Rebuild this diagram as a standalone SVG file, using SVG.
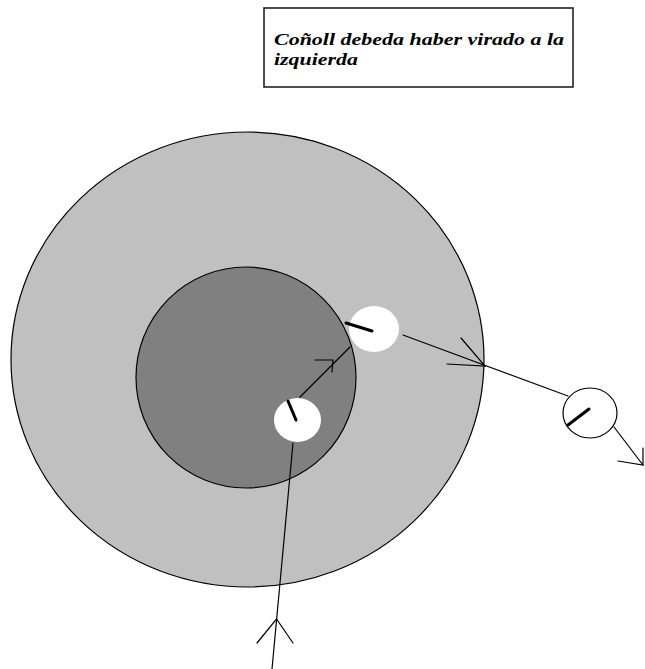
<svg xmlns="http://www.w3.org/2000/svg" width="645" height="669" viewBox="0 0 645 669">
<style>
.ln{stroke:#000;stroke-width:1.2;fill:none;stroke-linecap:round}
.tick{stroke:#000;stroke-width:3;stroke-linecap:round}
.lbl{font-family:"Liberation Serif",serif;font-style:italic;font-weight:bold;font-size:17px;fill:#000}
</style>
<rect width="645" height="669" fill="#fff"/>
<g id="outer"><ellipse cx="247.5" cy="359.5" rx="236.5" ry="227.5" fill="#c0c0c0" stroke="#000" stroke-width="1.2"/></g>
<g id="inner"><ellipse cx="246" cy="377.5" rx="110" ry="110.5" fill="#808080" stroke="#000" stroke-width="1.2"/></g>
<g id="note">
<rect x="264" y="8" width="309" height="79" fill="#fff" stroke="#222" stroke-width="1.6"/>
<text class="lbl" x="274" y="45" textLength="290" lengthAdjust="spacingAndGlyphs">Coñoll debeda haber virado a la</text>
<text class="lbl" x="274" y="65" textLength="84" lengthAdjust="spacingAndGlyphs">izquierda</text>
</g>
<g id="connectors">
<line class="ln" x1="293" y1="443" x2="272" y2="669"/>
<polyline class="ln" points="257,643 276.5,619 293,643"/>
<line class="ln" x1="300" y1="397" x2="350" y2="347"/>
<polyline class="ln" points="315,360 333,360 332,372"/>
<line class="ln" x1="403" y1="335" x2="568" y2="396"/>
<polyline class="ln" points="461,338 485,366 447,364"/>
<line class="ln" x1="614" y1="427" x2="643" y2="465"/>
<polyline class="ln" points="618,461 643,465 643,448"/>
</g>
<g id="ball1">
<ellipse cx="374" cy="329" rx="25" ry="23" fill="#fff"/>
<line class="tick" x1="346" y1="323" x2="372" y2="331"/>
</g>
<g id="ball2">
<ellipse cx="297.5" cy="420" rx="23.5" ry="22" fill="#fff"/>
<line class="tick" x1="288" y1="401" x2="296" y2="420"/>
</g>
<g id="ball3">
<ellipse cx="590" cy="413" rx="27" ry="25" fill="#fff" stroke="#000" stroke-width="1.2"/>
<line class="tick" x1="568" y1="425" x2="589" y2="409" stroke-width="2.5"/>
</g>
</svg>
